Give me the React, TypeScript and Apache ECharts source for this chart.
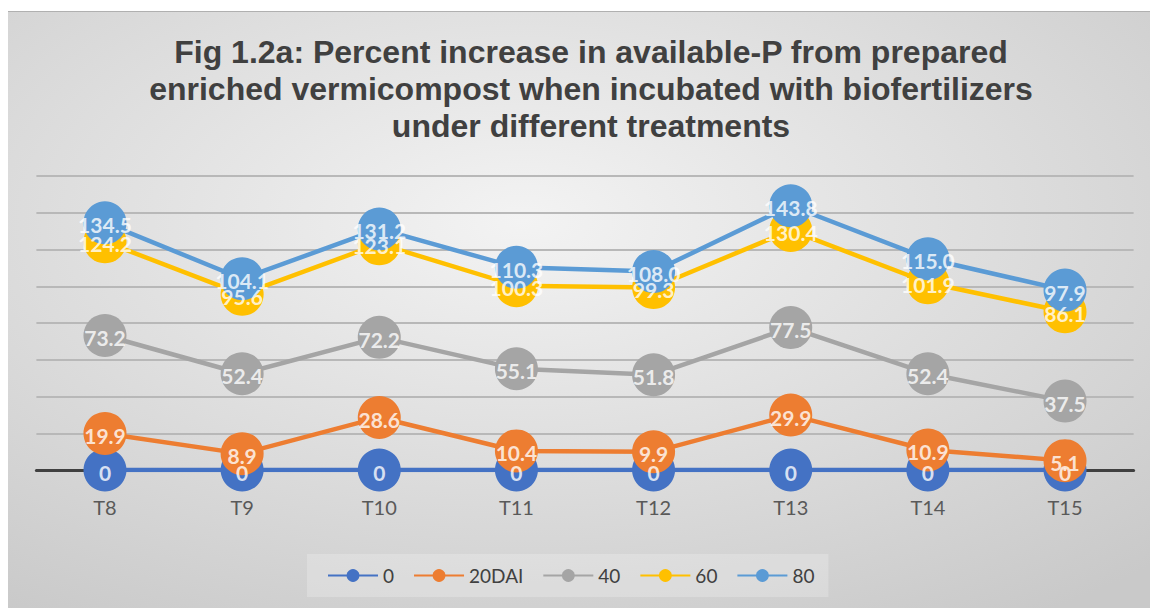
import React, { useEffect, useRef } from "react";
import * as echarts from "echarts";

const categories = ["T8", "T9", "T10", "T11", "T12", "T13", "T14", "T15"];
const seriesNames = ["0", "20DAI", "40", "60", "80"];
const s0 = [0, 0, 0, 0, 0, 0, 0, 0];
const s20 = [19.9, 8.9, 28.6, 10.4, 9.9, 29.9, 10.9, 5.1];
const s40 = [73.2, 52.4, 72.2, 55.1, 51.8, 77.5, 52.4, 37.5];
const s60 = [124.2, 95.6, 123.1, 100.3, 99.3, 130.4, 101.9, 86.1];
const s80 = [134.5, 104.1, 131.2, 110.3, 108.0, 143.8, 115.0, 97.9];
const seriesData = [s0, s20, s40, s60, s80];
const colors = ["#4472c4", "#ed7d31", "#a5a5a5", "#ffc000", "#5b9bd5"];
const fmt = [
  (v: number) => String(v),
  (v: number) => v.toFixed(1),
  (v: number) => v.toFixed(1),
  (v: number) => v.toFixed(1),
  (v: number) => v.toFixed(1),
];

export default function App() {
  const ref = useRef<HTMLDivElement>(null);
  useEffect(() => {
    if (!ref.current) return;
    const chart = echarts.init(ref.current, null, { renderer: "svg" });
    const lineSeries = seriesNames.map((name, i) => ({
      name,
      type: "line",
      data: seriesData[i],
      symbol: "circle",
      symbolSize: 43,
      color: colors[i],
      lineStyle: { color: colors[i], width: 4.5 },
      itemStyle: { color: colors[i] },
      label: { show: false },
      z: 2 + i,
    }));
    const labelSeries = seriesNames.map((name, i) => ({
      name: name + "_label",
      type: "scatter",
      data: seriesData[i],
      symbol: "circle",
      symbolSize: 1,
      silent: true,
      itemStyle: { color: "rgba(0,0,0,0)" },
      label: {
        show: true,
        position: "inside",
        offset: [0, 2],
        color: "#ffffff",
        fontFamily: "Lato",
        fontWeight: "bold",
        fontSize: 21,
        formatter: (p: any) => fmt[i](p.value),
      },
      z: 20 + i,
    }));
    chart.setOption({
      animation: false,
      backgroundColor: {
        type: "radial",
        x: 0.45,
        y: 0.35,
        r: 0.8,
        colorStops: [
          { offset: 0, color: "#f3f3f3" },
          { offset: 1, color: "#c9c9c9" },
        ],
      },
      title: {
        text:
          "Fig 1.2a: Percent increase in available-P from prepared\nenriched vermicompost when incubated with biofertilizers\nunder different treatments",
        left: 578,
        textAlign: "center",
        top: 16,
        textStyle: {
          fontFamily: "Liberation Sans",
          fontWeight: "bold",
          fontSize: 32,
          lineHeight: 37,
          color: "#404040",
        },
      },
      legend: {
        data: seriesNames,
        left: 299,
        top: 542,
        padding: [12, 14, 12, 20],
        backgroundColor: "rgba(255,255,255,0.22)",
        itemWidth: 50,
        itemHeight: 16,
        itemGap: 19,
        textStyle: { fontFamily: "Lato", fontSize: 19, color: "#404040" },
      },
      grid: { left: 28.4, right: 16.4, top: 164, bottom: 138 },
      xAxis: {
        type: "category",
        data: categories,
        boundaryGap: true,
        axisLine: { show: true, lineStyle: { color: "#404040", width: 3 } },
        axisTick: { show: false },
        axisLabel: { margin: 27, fontFamily: "Lato", fontSize: 20, color: "#595959" },
        z: 1,
      },
      yAxis: {
        type: "value",
        min: 0,
        max: 160,
        interval: 20,
        axisLabel: { show: false },
        axisLine: { show: false },
        axisTick: { show: false },
        splitLine: { lineStyle: { color: "#b8b8b8", width: 2 } },
      },
      series: [...lineSeries, ...labelSeries],
    });
    return () => chart.dispose();
  }, []);
  return (
    <div
      ref={ref}
      style={{
        position: "absolute",
        left: 8,
        top: 11,
        width: 1142,
        height: 597,
        borderTop: "1px solid #b0b0b0",
        boxSizing: "border-box",
      }}
    />
  );
}
